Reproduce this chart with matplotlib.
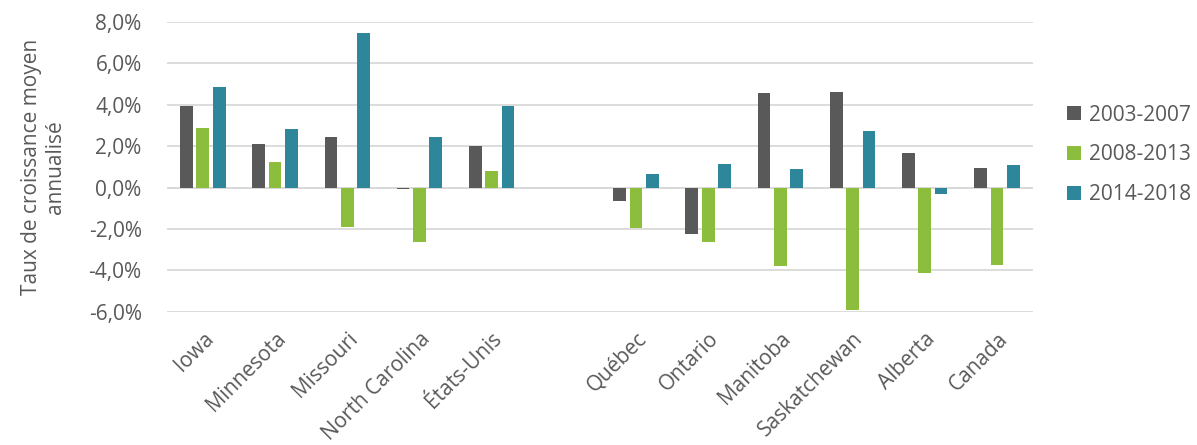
import matplotlib.pyplot as plt
import numpy as np

plt.rcParams["font.family"] = ["Open Sans", "DejaVu Sans"]

regions = ["Iowa", "Minnesota", "Missouri", "North Carolina", "États-Unis", "",
           "Québec", "Ontario", "Manitoba", "Saskatchewan", "Alberta", "Canada"]
periods = ["2003-2007", "2008-2013", "2014-2018"]

# croissance annuelle moyenne (%)
g_2003_2007 = [3.92, 2.11, 2.45, -0.08, 2.02, np.nan, -0.66, -2.27, 4.58, 4.61, 1.69, 0.94]
g_2008_2013 = [2.87, 1.24, -1.89, -2.65, 0.82, np.nan, -1.95, -2.63, -3.81, -5.92, -4.13, -3.74]
g_2014_2018 = [4.84, 2.85, 7.45, 2.44, 3.92, np.nan, 0.63, 1.15, 0.89, 2.73, -0.32, 1.08]

colors = ["#595959", "#8cbd3c", "#2e869a"]
grey_txt = "#595959"

fig = plt.figure(figsize=(11.97, 4.45), dpi=100)
ax = fig.add_axes([0.1393, 0.2996, 0.7237, 0.651])

x = np.arange(len(regions))
width = 0.176
step = 0.226
series = [g_2003_2007, g_2008_2013, g_2014_2018]
for i, vals in enumerate(series):
    ax.bar(x + (i - 1) * step, vals, width, color=colors[i], label=periods[i], zorder=3)

ax.set_xlim(-0.5, len(regions) - 0.5)
ax.set_ylim(-6, 8)
ax.set_yticks(np.arange(-6, 9, 2))
ax.set_yticklabels([f"{v:.1f}%".replace(".", ",") for v in np.arange(-6, 9, 2)])
ax.yaxis.grid(True, color="#d9d9d9", linewidth=1.3, zorder=0)
ax.axhline(0, color="#d9d9d9", linewidth=1.3, zorder=1)
for s in ax.spines.values():
    s.set_visible(False)

ax.tick_params(axis="both", length=0, labelsize=15, labelcolor=grey_txt)
ax.tick_params(axis="y", pad=18)
ax.set_xticks(x)
ax.set_xticklabels(regions, rotation=45, ha="right", va="top", rotation_mode="anchor")
ax.tick_params(axis="x", pad=12)

ax.set_ylabel("Taux de croissance moyen\nannualisé", fontsize=15, color=grey_txt,
              labelpad=16, linespacing=1.2)

ax.legend(loc="center left", bbox_to_anchor=(1067 / 1197, 0.652),
          bbox_transform=fig.transFigure, frameon=False, fontsize=15,
          borderpad=0, borderaxespad=0,
          handlelength=0.65, handleheight=0.65, handletextpad=0.4, labelspacing=0.9,
          labelcolor=grey_txt)

fig.savefig("out.png", dpi=100, facecolor="white")
